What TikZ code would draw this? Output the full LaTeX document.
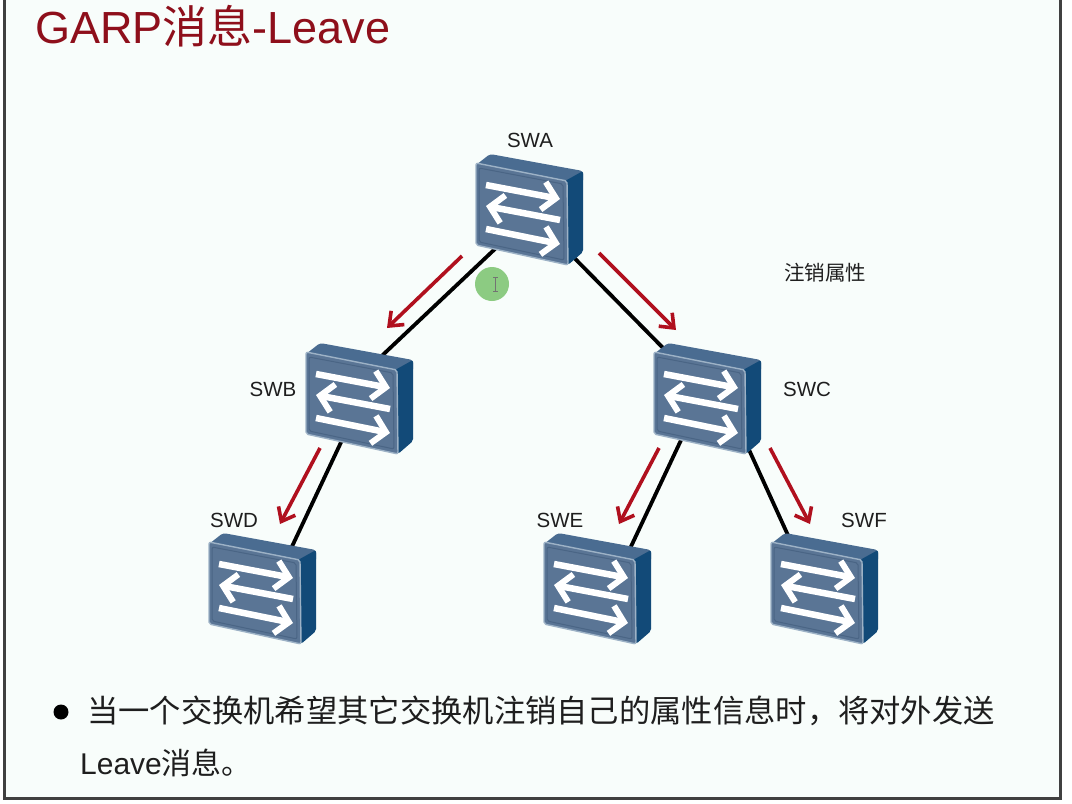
\documentclass[tikz,border=0pt]{standalone}
\usepackage{fontspec}
\setmainfont{Liberation Sans}
\newfontfamily\cjk{Noto Sans CJK SC}
\usetikzlibrary{calc,arrows.meta}
\definecolor{bgc}{HTML}{F8FDFB}
\definecolor{frontc}{HTML}{5A7595}
\definecolor{frontd}{HTML}{4A6585}
\definecolor{edgec}{HTML}{9DB2C6}
\definecolor{topc}{HTML}{4A6C91}
\definecolor{sidec}{HTML}{124A78}
\definecolor{redc}{HTML}{B0101E}
\definecolor{titlec}{HTML}{8E0F1B}
\definecolor{txtc}{HTML}{1E1E1E}
\definecolor{cursorc}{HTML}{8CCB82}
\tikzset{
  x=1pt,y=-1pt,
  link/.style={line width=3.8pt,black},
  flow/.style={line width=3.6pt,redc,-{Straight Barb[length=12pt,width=19pt,line width=3.6pt]}},
  anchorbox/.style={minimum width=107pt,minimum height=111pt,inner sep=0pt,outer sep=0pt},
  lbl/.style={font=\fontsize{20.5}{20.5}\selectfont,text=txtc,inner sep=0pt},
  whitearrow/.style={line width=6.5pt,white,-{Straight Barb[length=13pt,width=28pt,line width=6pt]}},
  switch/.pic={
    \fill[topc,rounded corners=3pt] (0,2) -- (14,-9) -- (107,8) -- (107,20) -- (91,24) -- cycle;
    \fill[sidec,rounded corners=2pt] (89,18) -- (107,8) -- (107,89) -- (92,102) -- (89,100) -- cycle;
    \fill[frontc,draw=edgec,line width=1.4pt,line join=round,rounded corners=2pt] (0,0) -- (91,18) -- (92,102) -- (0,82) -- cycle;
    \draw[frontd,line width=1pt,rounded corners=2pt] (3,5) -- (87,21) -- (88,97) -- (3,79) -- cycle;
    \draw[whitearrow] (10,22) -- (84,36);
    \draw[whitearrow] (84,57) -- (10,43);
    \draw[whitearrow] (10,66) -- (84,81);
  }
}
\begin{document}
\begin{tikzpicture}
\useasboundingbox (0,0) rectangle (1072,804);
\fill[white] (0,0) rectangle (1072,804);
\fill[bgc] (4,0) rectangle (1060,798);
\draw[black!75,line width=3pt] (4,0) -- (4,798) -- (1060,798) -- (1060,0);

\node[anchorbox] (swa) at (529.5,209.5) {};
\node[anchorbox] (swb) at (359.5,398.5) {};
\node[anchorbox] (swc) at (707.5,398.5) {};
\node[anchorbox] (swd) at (262.5,588.5) {};
\node[anchorbox] (swe) at (597.5,588.5) {};
\node[anchorbox] (swf) at (824.5,588.5) {};

\draw[link] ([shift={(-24.5,30)}]swa.center) -- ([shift={(10.5,-31.5)}]swb.center);
\draw[link] ([shift={(35.5,39)}]swa.center) -- ([shift={(-37.5,-43.5)}]swc.center);
\draw[link] ([shift={(-12,30)}]swb.center) -- ([shift={(25.5,-33.5)}]swd.center);
\draw[link] ([shift={(-21,30)}]swc.center) -- ([shift={(29.5,-33.5)}]swe.center);
\draw[link] ([shift={(32.5,31.5)}]swc.center) -- ([shift={(-27.5,-33.5)}]swf.center);

\coordinate (fa1) at (462,256); \coordinate (fa2) at (387,328);
\coordinate (fb1) at (599,253); \coordinate (fb2) at (676,330);
\coordinate (fc1) at (320,448); \coordinate (fc2) at (280,524);
\coordinate (fd1) at (659,448); \coordinate (fd2) at (619,524);
\coordinate (fe1) at (770,448); \coordinate (fe2) at (810,524);
\draw[flow] (fa1) -- (fa2);
\draw[flow] (fb1) -- (fb2);
\draw[flow] (fc1) -- (fc2);
\draw[flow] (fd1) -- (fd2);
\draw[flow] (fe1) -- (fe2);

\pic at (476,163) {switch};
\pic at (306,352) {switch};
\pic at (654,352) {switch};
\pic at (209,542) {switch};
\pic at (544,542) {switch};
\pic at (771,542) {switch};

\node[lbl] (la) at (530,140) {SWA};
\node[lbl] (lb) at (273,389) {SWB};
\node[lbl] (lc) at (807,389) {SWC};
\node[lbl] (ld) at (234,520) {SWD};
\node[lbl] (le) at (560,520) {SWE};
\node[lbl] (lf) at (864,520) {SWF};
\node[lbl,font=\fontsize{20.5}{20.5}\selectfont\cjk] (attr) at (825,273) {注销属性};

\fill[cursorc] (492,284) circle (17);
\draw[black!55,line width=1pt] (493,277) -- (498,277) (493,291) -- (498,291) (495.5,277) -- (495.5,291);

\node[anchor=base west,inner sep=0pt,text=titlec,font=\fontsize{45}{45}\selectfont] (title) at (35,43) {GARP{\cjk 消息}-Leave};
\fill[black] (61,712) circle (7.5);
\node[anchor=base west,inner sep=0pt,text=txtc,font=\fontsize{31.3}{31.3}\selectfont\cjk] (b1) at (87,722) {当一个交换机希望其它交换机注销自己的属性信息时\char"FF0C 将对外发送};
\node[anchor=base west,inner sep=0pt,text=txtc,font=\fontsize{30}{30}\selectfont] (b2) at (80,774) {Leave{\cjk 消息。}};
\end{tikzpicture}
\end{document}
